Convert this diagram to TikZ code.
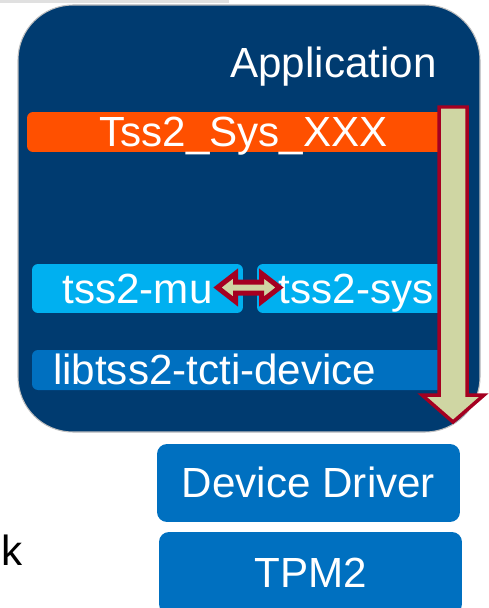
\documentclass[tikz,border=0pt]{standalone}
\usepackage{fontspec}
\setmainfont{Liberation Sans}
\usepackage{xcolor}
\usetikzlibrary{calc, math}
\definecolor{tnavy}{RGB}{0,59,112}
\definecolor{torange}{RGB}{255,80,0}
\definecolor{tcyan}{RGB}{0,176,240}
\definecolor{tblue}{RGB}{0,112,192}
\definecolor{tred}{RGB}{165,0,33}
\definecolor{tolive}{RGB}{207,214,163}

\begin{document}
\begin{tikzpicture}[x=0.02cm,y=-0.02cm,
  lbl/.style={text=white,font=\fontsize{24}{28}\selectfont,text height=17pt,text depth=0pt,inner sep=0pt},
  layer/.style={lbl,rounded corners=0.12cm,minimum height=0.8cm},
  hw/.style={lbl,fill=tblue,rounded corners=0.2cm,minimum width=6.06cm},
  fat/.style={draw=tred,fill=tolive,line width=0.07cm,line join=miter}]

\tikzmath{
\W = 489;
\H = 608;
\sh = 5.5;
\hh = 14;
\hb = 13;
\tp = 31;
}
\useasboundingbox (0,0) rectangle (\W,\H);

\fill[black!12] (0,0) rectangle (229,3);

%application frame
\draw[fill=tnavy,draw=black!25,line width=0.6pt,rounded corners=1.1cm] (18,5) rectangle (480,432);
\node[lbl,anchor=east] (app) at (437,63) {Application};

%layers
\node[layer,fill=torange,minimum width=8.66cm] (sysapi) at (243.5,132) {Tss2\_Sys\_XXX};
\node[layer,fill=tcyan,minimum width=4.22cm,minimum height=0.98cm] (mu) at (137.5,288.5) {tss2-mu};
\node[layer,fill=tcyan,minimum width=3.96cm,minimum height=0.98cm] (sys) at (356,288.5) {tss2-sys};
\node[layer,fill=tblue,text width=7.62cm,inner xsep=0.42cm] (tcti) at (243.5,370) {libtss2-tcti-device};

%below the frame
\node[hw,minimum height=1.56cm] (driver) at (308.5,483) {Device Driver};
\node[hw,minimum height=1.64cm] (tpm) at (310.5,573) {TPM2};

\node[anchor=base east,font=\fontsize{24}{28}\selectfont,inner sep=0pt] (k) at (23,565) {k};

%double arrow mu <-> sys
\coordinate (swap) at ($(mu.east)!0.5!(sys.west)+(-1.5,-1)$);
\draw[fat,line width=0.1cm] ($(swap)+(-\tp,0)$) -- ($(swap)+(-\hb,-\hh)$) -- ($(swap)+(-\hb,-\sh)$)
  -- ($(swap)+(\hb,-\sh)$) -- ($(swap)+(\hb,-\hh)$) -- ($(swap)+(\tp,0)$) -- ($(swap)+(\hb,\hh)$)
  -- ($(swap)+(\hb,\sh)$) -- ($(swap)+(-\hb,\sh)$) -- ($(swap)+(-\hb,\hh)$) -- cycle;

%call path down to the driver
\coordinate (dtop) at (453,107);
\coordinate (dtip) at (453,422);
\draw[fat] ($(dtop)+(-14,0)$) -- ($(dtop)+(14,0)$) -- ($(dtip)+(14,-27)$) -- ($(dtip)+(31,-27)$)
  -- (dtip) -- ($(dtip)+(-31,-27)$) -- ($(dtip)+(-14,-27)$) -- cycle;

\end{tikzpicture}
\end{document}
